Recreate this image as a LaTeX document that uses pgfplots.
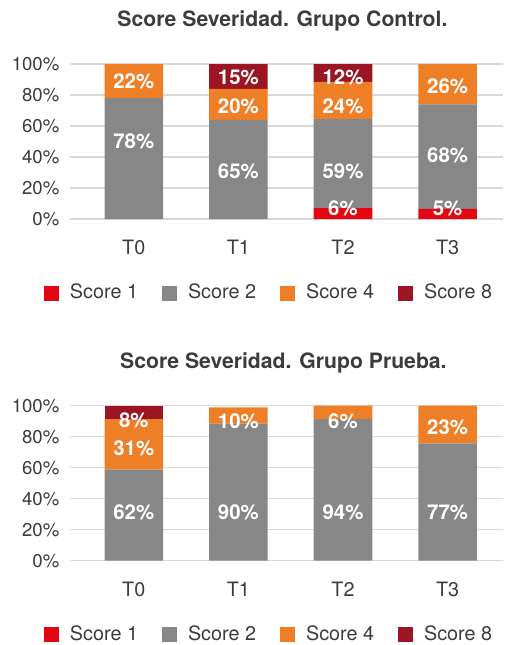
\documentclass[border=0pt]{standalone}
\usepackage{pgfplots}
\pgfplotsset{compat=1.18}
\usepackage{fontspec}
\setmainfont{TeX Gyre Heros}
\definecolor{sone}{HTML}{E30613}
\definecolor{stwo}{HTML}{878787}
\definecolor{sfour}{HTML}{EE7F27}
\definecolor{seight}{HTML}{9B1622}
\definecolor{txt}{HTML}{3C3C3C}
\definecolor{gridc}{HTML}{D9D9D9}
\pgfplotsset{
  base/.style={
    scale only axis, width=216.5pt, height=77.5pt,
    xmin=-0.61, xmax=3.53, ymin=0, ymax=100,
    anchor=south west,
  },
  bars/.style={
    base, ybar stacked, bar width=0.56,
    axis line style={draw=none}, major tick length=0pt,
    ymajorgrids, grid style={draw=gridc, line width=0.65pt},
    xtick={0,1,2,3}, xticklabels={T0,T1,T2,T3},
    ytick={0,20,40,60,80,100}, yticklabels={0\%,20\%,40\%,60\%,80\%,100\%},
    xticklabel style={font=\fontsize{9.9}{11}\selectfont, text=txt, yshift=-7pt},
    yticklabel style={font=\fontsize{9.3}{11}\selectfont, text=txt, xshift=-1.8pt},
    legend columns=4,
    legend style={draw=none, fill=none, at={(-0.06005,-0.4774)}, anchor=west,
      inner sep=0pt, outer sep=0pt, font=\fontsize{9.9}{11}\selectfont, text=txt,
      nodes={inner sep=0pt},
      /tikz/every odd column/.style={column sep=5.5pt},
      /tikz/every even column/.style={column sep=12pt}},
    legend image code/.code={\fill[##1, draw=none] (0pt,-3.75pt) rectangle (7.5pt,3.75pt);},
  },
  labs/.style={base, hide axis, clip=false},
  lab/.style={draw=none, mark=none, nodes near coords, point meta=explicit symbolic,
    nodes near coords style={anchor=center, text=white, font=\fontsize{10.2}{12}\selectfont\bfseries}},
}
\begin{document}
\begin{tikzpicture}
\useasboundingbox (0,0) rectangle (254pt,322.5pt);
\node[anchor=base, font=\fontsize{10.6}{12}\selectfont\bfseries, text=txt] at (141.25pt,309.15pt) {Score Severidad. Grupo Control.};
\node[anchor=base, font=\fontsize{10.6}{12}\selectfont\bfseries, text=txt] at (141.7pt,138.35pt) {Score Severidad. Grupo Prueba.};
% ---- Grupo Control ----
\begin{axis}[bars, at={(35pt,213pt)}]
\addplot[fill=sone, draw=none] coordinates {(0,0) (1,0) (2,7) (3,6.5)};
\addplot[fill=stwo, draw=none] coordinates {(0,78) (1,64) (2,57.5) (3,67.5)};
\addplot[fill=sfour, draw=none] coordinates {(0,22) (1,20) (2,24) (3,26)};
\addplot[fill=seight, draw=none] coordinates {(0,0) (1,16) (2,11.5) (3,0)};
\legend{Score 1, Score 2, Score 4, Score 8}
\end{axis}
\begin{axis}[labs, at={(35pt,213pt)}]
\addplot[lab] coordinates {
  (0,88.6)[22\%] (0,50.3)[78\%]
  (1,91.4)[15\%] (1,72.5)[20\%] (1,30.5)[65\%]
  (2,91.4)[12\%] (2,72.5)[24\%] (2,30.5)[59\%] (2,6.9)[6\%]
  (3,85.8)[26\%] (3,40.9)[68\%] (3,6.5)[5\%]
};
\end{axis}
% ---- Grupo Prueba ----
\begin{axis}[bars, at={(35pt,42.15pt)}]
\addplot[fill=sone, draw=none] coordinates {(0,0) (1,0) (2,0) (3,0)};
\addplot[fill=stwo, draw=none] coordinates {(0,58.7) (1,88.4) (2,91.4) (3,75.7)};
\addplot[fill=sfour, draw=none] coordinates {(0,32.7) (1,10.6) (2,8.6) (3,24.3)};
\addplot[fill=seight, draw=none] coordinates {(0,8.6) (1,0) (2,0) (3,0)};
\legend{Score 1, Score 2, Score 4, Score 8}
\end{axis}
\begin{axis}[labs, at={(35pt,42.15pt)}]
\addplot[lab] coordinates {
  (0,90.8)[8\%] (0,72.5)[31\%] (0,31.2)[62\%]
  (1,90.1)[10\%] (1,31.2)[90\%]
  (2,90.1)[6\%] (2,31.2)[94\%]
  (3,86.1)[23\%] (3,31.2)[77\%]
};
\end{axis}
\end{tikzpicture}
\end{document}
